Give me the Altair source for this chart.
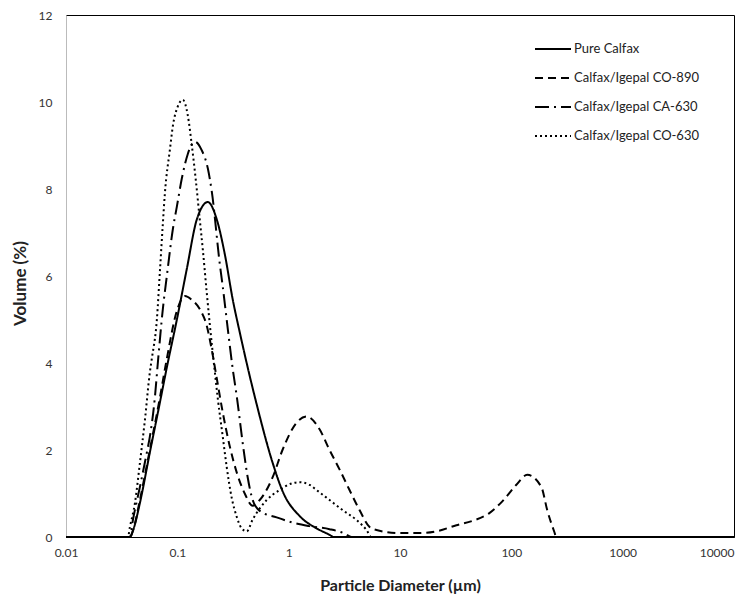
import altair as alt
import pandas as pd

series_names = ["Pure Calfax", "Calfax/Igepal CO-890", "Calfax/Igepal CA-630", "Calfax/Igepal CO-630"]

d_pure = [0.01, 0.0375, 0.04, 0.0461, 0.0566, 0.0697, 0.0805, 0.0991, 0.1216, 0.1496, 0.188, 0.226,
          0.267, 0.315, 0.364, 0.447, 0.516, 0.719, 0.883, 1.256, 1.78, 2.33, 2.54, 10000]
v_pure = [0, 0, 0.15, 0.78, 1.94, 3.09, 3.9, 5.0, 6.16, 7.3, 7.7, 7.3,
          6.5, 5.45, 4.7, 3.7, 3.05, 1.7, 1.05, 0.48, 0.2, 0.05, 0, 0]

d_co890 = [0.01, 0.0375, 0.04, 0.0461, 0.0566, 0.0697, 0.0805, 0.0991, 0.117, 0.135, 0.159, 0.184,
           0.204, 0.226, 0.256, 0.296, 0.342, 0.403, 0.475, 0.55, 0.72, 0.88, 1.18, 1.45, 1.90, 2.33,
           2.87, 3.52, 4.33, 5.33, 6.15, 9.9, 15.0, 21.2, 32.1, 44.7, 63.5, 83, 111, 139, 186, 210,
           243, 253, 10000]
v_co890 = [0, 0, 0.15, 0.85, 2.0, 3.2, 4.1, 5.2, 5.54, 5.45, 5.24, 4.85,
           4.3, 3.65, 2.86, 2.08, 1.48, 1.0, 0.72, 0.85, 1.38, 2.0, 2.63, 2.77, 2.47, 2.0,
           1.55, 1.08, 0.62, 0.23, 0.16, 0.09, 0.09, 0.13, 0.27, 0.37, 0.55, 0.82, 1.2, 1.43, 1.15, 0.62,
           0.12, 0, 0]

d_ca630 = [0.01, 0.0375, 0.0399, 0.0461, 0.0532, 0.0566, 0.0628, 0.0668, 0.0741, 0.0805, 0.0912,
           0.0991, 0.1097, 0.124, 0.1436, 0.165, 0.188, 0.204, 0.240, 0.256, 0.284, 0.315, 0.342,
           0.386, 0.428, 0.475, 0.55, 0.78, 1.09, 1.54, 2.33, 3.18, 3.67, 10000]
v_ca630 = [0, 0, 0.39, 1.15, 1.94, 2.3, 3.2, 4.0, 5.24, 6.0, 7.08,
           7.6, 8.24, 8.8, 9.09, 8.9, 8.47, 7.94, 6.3, 5.75, 4.78, 3.85, 3.23,
           2.17, 1.38, 0.85, 0.6, 0.45, 0.33, 0.25, 0.18, 0.08, 0, 0]

d_co630 = [0.01, 0.036, 0.0375, 0.0416, 0.0461, 0.0512, 0.0566, 0.059, 0.0655, 0.0697, 0.0741,
           0.0773, 0.0857, 0.0912, 0.101, 0.112, 0.124, 0.135, 0.1466, 0.159, 0.1695, 0.184,
           0.1955, 0.217, 0.2305, 0.256, 0.278, 0.308, 0.342, 0.378, 0.42, 0.475, 0.635, 0.83,
           1.09, 1.256, 1.54, 1.78, 2.33, 3.05, 4.07, 5.01, 5.55, 10000]
v_co630 = [0, 0, 0.23, 0.78, 1.7, 2.7, 3.78, 4.1, 5.0, 6.1, 7.2,
           7.9, 8.9, 9.45, 9.9, 10.05, 9.7, 9.0, 8.2, 7.3, 6.6, 5.6,
           4.9, 3.8, 3.2, 2.3, 1.6, 0.9, 0.46, 0.2, 0.13, 0.4, 0.85, 1.08,
           1.24, 1.26, 1.2, 1.08, 0.85, 0.62, 0.39, 0.16, 0, 0]

x_ticks = [0.01, 0.1, 1, 10, 100, 1000, 10000]
y_ticks = [0, 2, 4, 6, 8, 10, 12]
dash_patterns = [[1, 0], [8, 5], [14, 5, 2, 5], [2, 3]]

rows = []
for name, ds, vs in zip(series_names, [d_pure, d_co890, d_ca630, d_co630],
                        [v_pure, v_co890, v_ca630, v_co630]):
    for d, v in zip(ds, vs):
        rows.append({"series": name, "d": d, "v": v})
df = pd.DataFrame(rows)

FONT = "Lato"

chart = alt.Chart(df).mark_line(interpolate="monotone", strokeWidth=2, color="black").encode(
    x=alt.X("d:Q",
            scale=alt.Scale(type="log", domain=[0.01, 10000]),
            axis=alt.Axis(values=x_ticks, format="~g", title="Particle Diameter (µm)",
                          ticks=False, grid=False, labelPadding=10, domainColor="black",
                          labelFlush=False, labelOverlap=False,
                          labelAlign=alt.condition("datum.value >= 10000",
                                                   alt.value("right"), alt.value("center")),
                          labelFont=FONT, labelFontSize=12, labelColor="#333",
                          titleFont=FONT, titleFontSize=16, titleFontWeight="bold",
                          titleColor="#222", titleY=48, titleBaseline="middle")),
    y=alt.Y("v:Q",
            scale=alt.Scale(domain=[0, 12]),
            axis=alt.Axis(values=y_ticks, title="Volume (%)", ticks=False, grid=False,
                          labelPadding=14, domainColor="#bbbbbb",
                          labelFont=FONT, labelFontSize=12, labelColor="#333",
                          titleFont=FONT, titleFontSize=17, titleFontWeight="bold",
                          titleColor="#222", titleX=-46, titleY=268, titleAngle=270,
                          titleBaseline="middle", titleAlign="center")),
    strokeDash=alt.StrokeDash("series:N",
                              scale=alt.Scale(domain=series_names, range=dash_patterns),
                              legend=alt.Legend(title=None, orient="none", legendX=468, legendY=15,
                                                symbolType="stroke", symbolSize=1296,
                                                symbolStrokeWidth=2, symbolStrokeColor="black",
                                                labelFont=FONT, labelFontSize=13, labelColor="#222",
                                                labelOffset=2, rowPadding=3)),
).properties(
    width=668, height=522,
    autosize=alt.AutoSizeParams(type="none"),
    padding={"left": 58, "top": 7, "right": 10, "bottom": 62},
).configure_view(stroke="black", strokeWidth=1)

chart.save("out.html", embed_options={"renderer": "svg", "actions": False})
